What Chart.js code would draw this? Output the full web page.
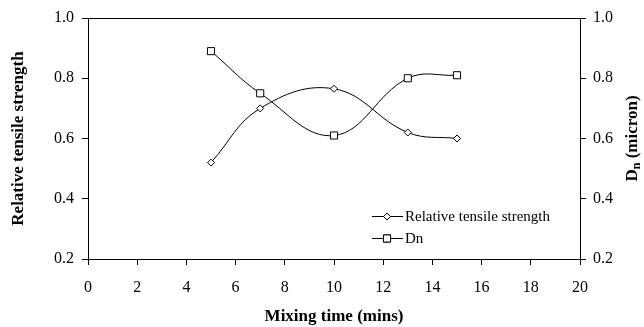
<!DOCTYPE html>
<html>
<head>
<meta charset="utf-8">
<script src="https://cdn.jsdelivr.net/npm/chart.js@4/dist/chart.umd.min.js"></script>
<style>
  html, body { margin: 0; padding: 0; background: #fff; }
  #wrap { width: 644px; height: 327px; }
</style>
</head>
<body>
<div id="wrap"><canvas id="c" width="644" height="327"></canvas></div>
<script>
const mixingTime = [5, 7, 10, 13, 15];
const relTensile = [0.52, 0.70, 0.765, 0.62, 0.60];
const dnMicron = [0.89, 0.75, 0.61, 0.80, 0.81];
const xTicks = [0, 2, 4, 6, 8, 10, 12, 14, 16, 18, 20];
const yTicks = [0.2, 0.4, 0.6, 0.8, 1.0];
const seriesLabels = ['Relative tensile strength', 'Dn'];
const xTitle = 'Mixing time (mins)';
const yLeftTitle = 'Relative tensile strength';
const yRightTitle = ['D', 'n', ' (micron)'];

const FONT = '"Liberation Serif", "Times New Roman", serif';

const framePlugin = {
  id: 'frame',
  afterDraw(chart) {
    const ctx = chart.ctx;
    const a = chart.chartArea;
    ctx.save();
    // top border
    ctx.strokeStyle = '#000';
    ctx.lineWidth = 1;
    ctx.beginPath();
    ctx.moveTo(a.left, a.top + 0.5);
    ctx.lineTo(a.right, a.top + 0.5);
    ctx.stroke();

    // axis titles
    ctx.fillStyle = '#000';
    ctx.font = 'bold 17px ' + FONT;
    ctx.textAlign = 'center';
    ctx.textBaseline = 'middle';
    ctx.fillText(xTitle, (a.left + a.right) / 2, 317);

    ctx.save();
    ctx.translate(19, (a.top + a.bottom) / 2);
    ctx.rotate(-Math.PI / 2);
    ctx.fillText(yLeftTitle, 0, 0);
    ctx.restore();

    // right title with subscript
    ctx.save();
    ctx.translate(633, (a.top + a.bottom) / 2);
    ctx.rotate(-Math.PI / 2);
    ctx.textAlign = 'left';
    const bigFont = 'bold 17px ' + FONT;
    const smallFont = 'bold 12px ' + FONT;
    ctx.font = bigFont;
    const w1 = ctx.measureText(yRightTitle[0]).width;
    const w3 = ctx.measureText(yRightTitle[2]).width;
    ctx.font = smallFont;
    const w2 = ctx.measureText(yRightTitle[1]).width;
    let x0 = -(w1 + w2 + w3) / 2;
    ctx.font = bigFont;
    ctx.fillText(yRightTitle[0], x0, 0);
    ctx.font = smallFont;
    ctx.fillText(yRightTitle[1], x0 + w1, 4);
    ctx.font = bigFont;
    ctx.fillText(yRightTitle[2], x0 + w1 + w2, 0);
    ctx.restore();

    // legend
    const rows = [216, 238];
    chart.data.datasets.forEach((ds, i) => {
      const y = rows[i];
      ctx.strokeStyle = '#000';
      ctx.lineWidth = 1;
      ctx.beginPath();
      ctx.moveTo(372, y + 0.5);
      ctx.lineTo(403, y + 0.5);
      ctx.stroke();
      Chart.helpers.drawPoint(ctx, {
        pointStyle: ds.pointStyle,
        radius: ds.pointRadius,
        borderWidth: 1
      }, 387, y + 0.5);
      ctx.fillStyle = '#fff';
      ctx.fill();
      ctx.stroke();
      ctx.fillStyle = '#000';
      ctx.font = '15px ' + FONT;
      ctx.textAlign = 'left';
      ctx.textBaseline = 'middle';
      ctx.fillText(ds.label, 405, y + 1);
    });
    ctx.restore();
  }
};

const tickFont = { family: FONT, size: 16 };

new Chart(document.getElementById('c'), {
  type: 'line',
  data: {
    datasets: [
      {
        label: seriesLabels[0],
        data: mixingTime.map((x, i) => ({ x, y: relTensile[i] })),
        yAxisID: 'y',
        borderColor: '#000',
        borderWidth: 1,
        backgroundColor: '#fff',
        pointStyle: 'rectRot',
        pointRadius: 3.5,
        pointBorderColor: '#000',
        pointBackgroundColor: '#fff',
        pointBorderWidth: 1,
        tension: 0.4,
        fill: false
      },
      {
        label: seriesLabels[1],
        data: mixingTime.map((x, i) => ({ x, y: dnMicron[i] })),
        yAxisID: 'y2',
        borderColor: '#000',
        borderWidth: 1,
        backgroundColor: '#fff',
        pointStyle: 'rect',
        pointRadius: 5,
        pointBorderColor: '#000',
        pointBackgroundColor: '#fff',
        pointBorderWidth: 1,
        tension: 0.4,
        fill: false
      }
    ]
  },
  options: {
    responsive: false,
    animation: false,
    layout: { padding: { top: 18, left: 0, right: 0, bottom: 0 } },
    plugins: {
      legend: { display: false },
      tooltip: { enabled: false }
    },
    scales: {
      x: {
        type: 'linear',
        position: 'bottom',
        min: 0, max: 20,
        afterBuildTicks(s) { s.ticks = xTicks.map(v => ({ value: v })); },
        afterFit(s) { s.height = 68; },
        ticks: { font: tickFont, color: '#000', padding: 13, maxRotation: 0 },
        grid: { drawOnChartArea: false, drawTicks: true, tickLength: 6, tickColor: '#000' },
        border: { color: '#000', width: 1 }
      },
      y: {
        type: 'linear',
        position: 'left',
        min: 0.2, max: 1.0,
        afterBuildTicks(s) { s.ticks = yTicks.map(v => ({ value: v })); },
        afterFit(s) { s.width = 88; },
        ticks: { font: tickFont, color: '#000', padding: 8, callback: v => v.toFixed(1) },
        grid: { drawOnChartArea: false, drawTicks: true, tickLength: 6, tickColor: '#000' },
        border: { color: '#000', width: 1 }
      },
      y2: {
        type: 'linear',
        position: 'right',
        min: 0.2, max: 1.0,
        afterBuildTicks(s) { s.ticks = yTicks.map(v => ({ value: v })); },
        afterFit(s) { s.width = 64; },
        ticks: { font: tickFont, color: '#000', padding: 7, callback: v => v.toFixed(1) },
        grid: { drawOnChartArea: false, drawTicks: true, tickLength: 6, tickColor: '#000' },
        border: { color: '#000', width: 1 }
      }
    }
  },
  plugins: [framePlugin]
});
</script>
</body>
</html>
